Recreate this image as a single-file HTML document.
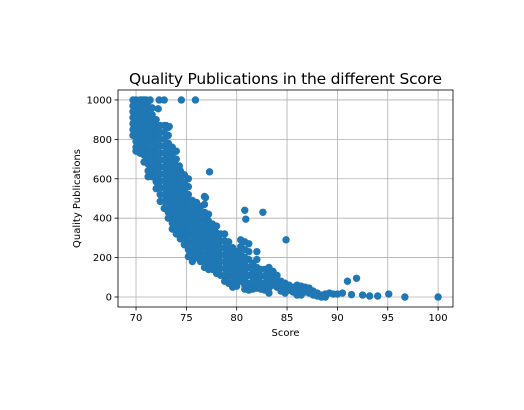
<!DOCTYPE html>
<html><head><meta charset="utf-8"><style>
html,body{margin:0;padding:0;background:#fff;}
svg{display:block;font-family:"DejaVu Sans","Liberation Sans",sans-serif;}
</style></head><body>
<svg id="chart" width="524" height="410" viewBox="0 0 524 410">
<rect width="524" height="410" fill="#fff"/>
<g id="grid"></g>
<g id="marks"></g>
<rect x="118" y="90" width="335" height="217" fill="none" stroke="#000" stroke-width="0.8"/>
<g id="ticks"></g>
<text x="285.5" y="84" font-size="15.5" text-anchor="middle" textLength="313" fill="#000">Quality Publications in the different Score</text>
<text x="285.5" y="336" font-size="10" text-anchor="middle" fill="#000">Score</text>
<text x="0" y="0" font-size="10" text-anchor="middle" fill="#000" transform="translate(80,198.5) rotate(-90)">Quality Publications</text>
</svg>
<script>
const xTicks=[70,75,80,85,90,95,100];
const yTicks=[0,200,400,600,800,1000];
const colScores=[69.7,70.0,70.4,70.8,71.2,71.6,72.0,72.4,72.8,73.2,73.6,74.0,74.4,74.8,75.2,75.6,76.0,76.4,76.8,77.2,77.6,78.0,78.4,78.8,79.2,79.6,80.0,80.4,80.8,81.2,81.6,82.0,82.4,82.8,83.2,83.6,84.0,84.4,84.8,85.2,85.6,86.0,86.4,86.8,87.2,87.6,88.0,88.4,88.8,89.2,89.6,90.0,90.5];
const colPubs=[
[1000,970,940,910,880,850,820],
[1000,970,940,910,880,850,820,790,760,740],
[1000,970,940,910,880,850,820,790,760,730],
[1000,965,930,895,860,825,790,755,720,685],
[990,955,920,885,850,815,780,745,710,675,640,610],
[960,925,890,855,820,785,750,715,680,645,610],
[900,865,830,795,760,725,690,655,620,585,550],
[870,835,800,765,730,695,660,625,590,555,520,485],
[870,835,800,765,730,695,660,625,590,555,520,485,450],
[860,820,780,745,710,675,640,605,570,535,500,465,430,400],
[760,725,690,655,620,585,550,515,480,445,410,375,345],
[740,700,665,630,595,560,525,490,455,420,385,350,320],
[640,605,570,535,500,465,430,395,360,325,295],
[620,580,545,510,475,440,405,370,335,300,265],
[600,560,520,485,450,415,380,345,310,275,240,205],
[490,455,420,385,350,315,280,245,210,180],
[480,445,410,375,340,305,270,235,200],
[460,425,390,355,320,285,250,215,180],
[510,470,430,395,360,325,290,255,220,185,150],
[420,385,350,315,280,245,210,175,140],
[370,335,300,265,230,195,160,140],
[360,325,290,255,220,185,150,120],
[320,285,250,215,180,145,110],
[320,285,250,215,180,145,110,80],
[280,245,210,175,140,105,70],
[250,215,180,145,110,75,50],
[230,195,160,125,90,55],
[290,255,220,185,150,115,80],
[280,240,200,165,130,95,60,40],
[270,230,190,150,110,70,35],
[170,135,100,65,40],
[230,190,150,115,80,45],
[140,105,70,40],
[140,105,70,35],
[150,115,80,45,20],
[130,95,60],
[110,80,50],
[80,50,30],
[70,45,20],
[60,35],
[50,25],
[60,35,10],
[55,30,10],
[50,25],
[45,20],
[30,10],
[20,5],
[10,0],
[15,0],
[20],
[15],
[15],
[20]];
const outlierScores=[70.6,71.0,71.4,72.3,72.8,74.5,75.9,72.2,77.3,80.8,80.9,82.6,84.9,91.0,91.9,91.4,92.5,93.2,94.0,95.1,96.7,100.0,73.0,73.3,76.9,74.3];
const outlierPubs=[1000,1000,1000,1000,1000,1000,1000,955,635,440,395,430,290,80,95,12,10,5,5,15,0,0,870,865,505,665];

const NS="http://www.w3.org/2000/svg";
const X0=68.21,X1=101.48,Y0=-50.8,Y1=1050.5;
const L=118,R=453,T=90,B=307;
function sx(v){return L+(v-X0)/(X1-X0)*(R-L);}
function sy(v){return B-(v-Y0)/(Y1-Y0)*(B-T);}
const grid=document.getElementById('grid'),ticks=document.getElementById('ticks'),marks=document.getElementById('marks');
function mk(tag,attrs,parent){const e=document.createElementNS(NS,tag);for(const k in attrs)e.setAttribute(k,attrs[k]);parent.appendChild(e);return e;}
xTicks.forEach(t=>{
  const x=sx(t);
  const g=mk('line',{x1:x,x2:x,y1:T,y2:B,stroke:'#b0b0b0','stroke-width':0.8},grid);
  
  
  const tk=mk('line',{x1:x,x2:x,y1:B,y2:B+3.5,stroke:'#000','stroke-width':0.8},ticks);
  
  
  const lb=mk('text',{x:x,y:B+14,'font-size':'10','text-anchor':'middle',fill:'#000'},ticks);
  lb.textContent=String(t);
  
  
});
yTicks.forEach(t=>{
  const y=sy(t);
  const g=mk('line',{x1:L,x2:R,y1:y,y2:y,stroke:'#b0b0b0','stroke-width':0.8},grid);
  
  
  const tk=mk('line',{x1:L-3.5,x2:L,y1:y,y2:y,stroke:'#000','stroke-width':0.8},ticks);
  
  
  const lb=mk('text',{x:L-6,y:y+3.5,'font-size':'10','text-anchor':'end',fill:'#000'},ticks);
  lb.textContent=String(t);
  
  
});
function dot(x,y){
  const c=mk('circle',{cx:sx(x),cy:sy(y),r:3.7,fill:'#1f77b4'},marks);
  
  
}
colScores.forEach((s,i)=>{colPubs[i].forEach(p=>dot(s,p));});
outlierScores.forEach((s,i)=>dot(s,outlierPubs[i]));
</script>
</body></html>
